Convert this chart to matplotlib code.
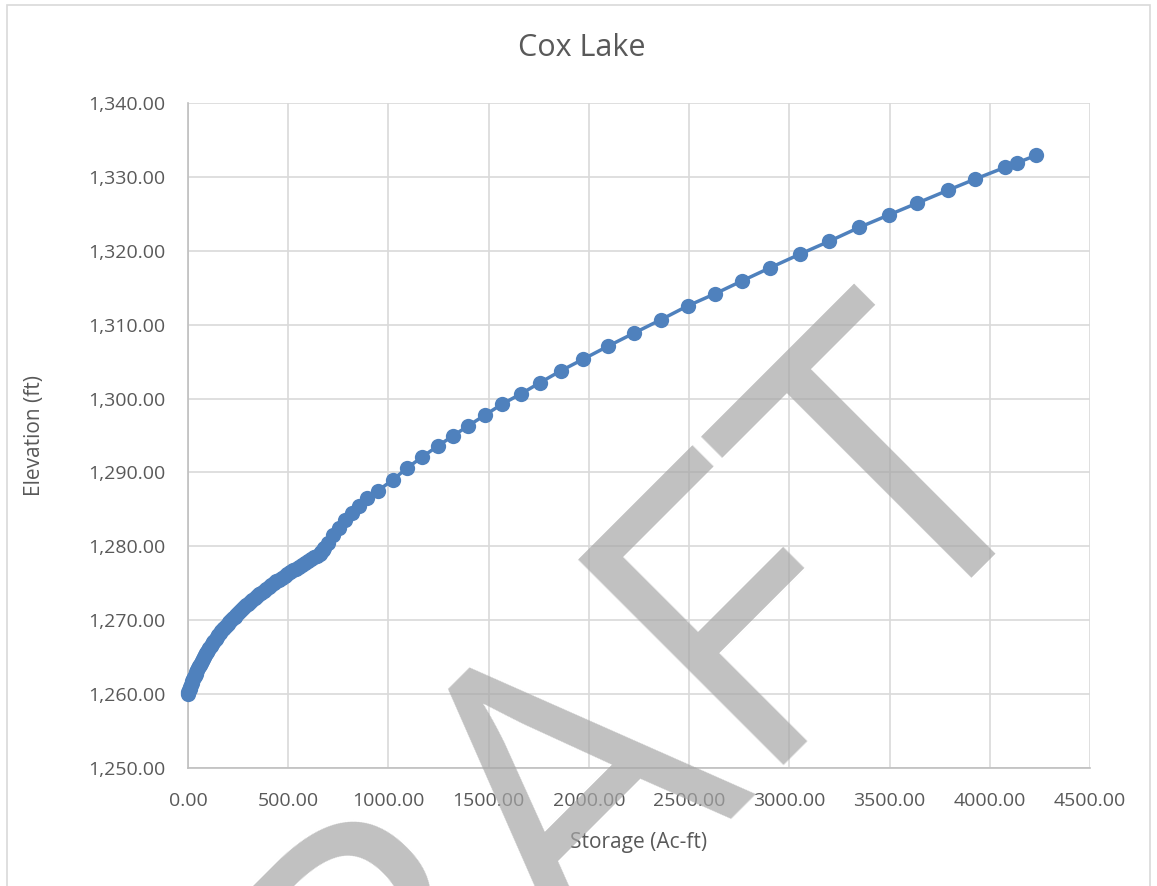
import matplotlib
matplotlib.use("Agg")
import matplotlib.pyplot as plt
from matplotlib.patches import Rectangle
from matplotlib.ticker import FuncFormatter, MultipleLocator

# Elevation-storage curve, Cox Lake
# tramo denso, cada 0.25 ft
elevacion_densa = [1260.00, 1260.25, 1260.50, 1260.75, 1261.00, 1261.25, 1261.50, 1261.75,
                   1262.00, 1262.25, 1262.50, 1262.75, 1263.00, 1263.25, 1263.50, 1263.75,
                   1264.00, 1264.25, 1264.50, 1264.75, 1265.00, 1265.25, 1265.50, 1265.75,
                   1266.00, 1266.25, 1266.50, 1266.75, 1267.00, 1267.25, 1267.50, 1267.75,
                   1268.00, 1268.25, 1268.50, 1268.75, 1269.00, 1269.25, 1269.50, 1269.75,
                   1270.00, 1270.25, 1270.50, 1270.75, 1271.00, 1271.25, 1271.50, 1271.75,
                   1272.00, 1272.25, 1272.50, 1272.75, 1273.00, 1273.25, 1273.50, 1273.75,
                   1274.00, 1274.25, 1274.50, 1274.75, 1275.00, 1275.25, 1275.50, 1275.75,
                   1276.00, 1276.25, 1276.50, 1276.75, 1277.00, 1277.25, 1277.50, 1277.75,
                   1278.00, 1278.25, 1278.50, 1278.75, 1279.00, 1279.25, 1279.50, 1279.75]
almacen_denso = [0, 2, 5, 8, 11, 14, 18, 22,
                 26, 30, 34, 38, 42, 46, 51, 55,
                 59, 64, 69, 74, 79, 84, 90, 95,
                 101, 107, 113, 119, 125, 131, 138, 145,
                 152, 159, 166, 174, 182, 190, 198, 206,
                 214, 223, 232, 241, 250, 259, 269, 279,
                 289, 299, 310, 321, 332, 343, 354, 366,
                 378, 390, 402, 415, 428, 441, 454, 468,
                 482, 496, 510, 524, 539, 554, 569, 584,
                 599, 614, 629, 644, 659, 666, 673, 680]

# tramo superior, puntos separados
elevacion_alta = [1280.5, 1281.5, 1282.5, 1283.5, 1284.5, 1285.5, 1286.5, 1287.5,
                  1288.98, 1290.56, 1292.05, 1293.58, 1294.93, 1296.33, 1297.77,
                  1299.22, 1300.62, 1302.15, 1303.77, 1305.31, 1307.11, 1308.87,
                  1310.67, 1312.53, 1314.19, 1315.95, 1317.7, 1319.56, 1321.3,
                  1323.18, 1324.88, 1326.43, 1328.19, 1329.67, 1331.3, 1331.92,
                  1332.92]
almacen_alto = [697, 722, 752, 784, 817, 852, 892, 946,
                1021, 1091, 1166, 1246, 1321, 1399, 1482,
                1565, 1660, 1756, 1861, 1970, 2097, 2226,
                2359, 2492, 2630, 2766, 2904, 3054, 3200,
                3350, 3499, 3636, 3791, 3924, 4077, 4138,
                4231]

almacen = almacen_denso + almacen_alto
elevacion = elevacion_densa + elevacion_alta

AZUL = "#4F81BD"
GRIS_TXT = "#595959"
FUENTE = ["Open Sans", "DejaVu Sans"]

plt.rcParams["font.family"] = FUENTE

fig = plt.figure(figsize=(11.57, 8.86), dpi=100)
ax = fig.add_axes([188 / 1157, 1 - 768 / 886, (1090 - 188) / 1157, (768 - 103) / 886])

ax.plot(almacen, elevacion, color=AZUL, lw=2.5, marker="o", ms=11,
        markeredgewidth=0, zorder=3, clip_on=False)

ax.set_xlim(0, 4500)
ax.set_ylim(1250, 1340)
ax.xaxis.set_major_locator(MultipleLocator(500))
ax.yaxis.set_major_locator(MultipleLocator(10))
ax.xaxis.set_major_formatter(FuncFormatter(lambda v, p: f"{v:.2f}"))
ax.yaxis.set_major_formatter(FuncFormatter(lambda v, p: f"{v:,.2f}"))

ax.grid(True, color="#D9D9D9", lw=1.2, zorder=0)
ax.set_axisbelow(True)
for lado in ["top", "right"]:
    ax.spines[lado].set_visible(False)
for lado in ["left", "bottom"]:
    ax.spines[lado].set_color("#BFBFBF")
    ax.spines[lado].set_linewidth(1.2)
ax.tick_params(axis="both", length=0, labelsize=14, labelcolor=GRIS_TXT)
ax.tick_params(axis="y", pad=16)
ax.tick_params(axis="x", pad=17)

fig.text(0.503, 1 - 48 / 886, "Cox Lake", fontsize=22, color=GRIS_TXT,
         ha="center", va="center")
ax.set_xlabel("Storage (Ac-ft)", fontsize=15, color=GRIS_TXT, labelpad=16)
ax.set_ylabel("Elevation (ft)", fontsize=15, color=GRIS_TXT, labelpad=31)

# borde del area del grafico
fig.patches.append(Rectangle((7 / 1157, -0.05), (1150 - 7) / 1157, 1.05 - 5 / 886,
                             transform=fig.transFigure, fill=False,
                             edgecolor="#D9D9D9", lw=1.2))

# marca de agua
fig.text(0.531, -0.0113, "DRAFT", rotation=45, rotation_mode="anchor",
         ha="center", va="baseline", fontsize=293, color="#A6A6A6",
         alpha=0.7, zorder=10)

fig.savefig("out.png", dpi=100)
